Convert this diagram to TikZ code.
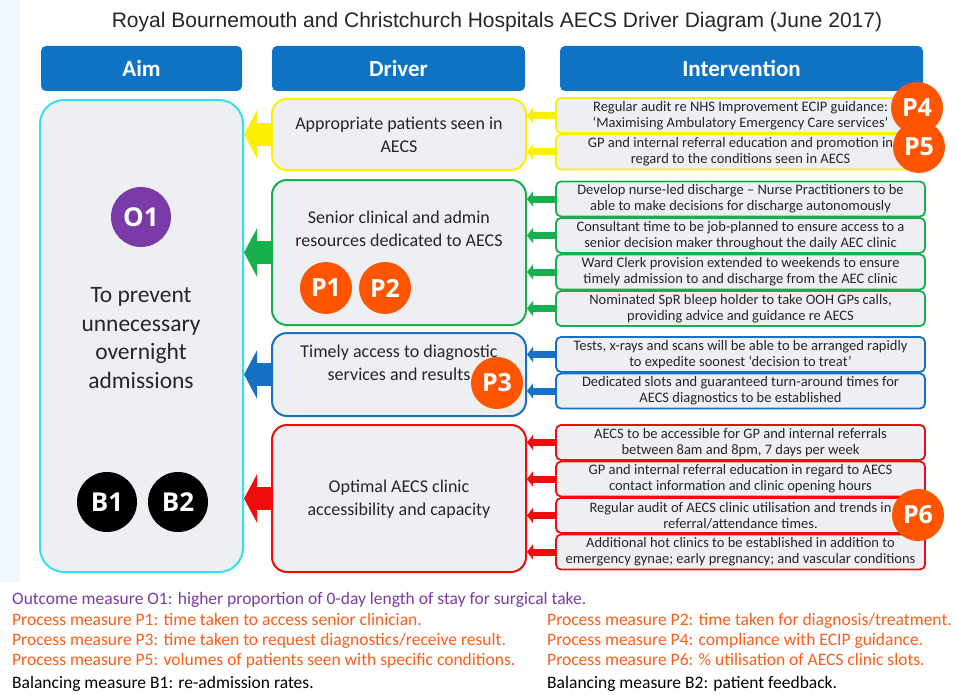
\documentclass[tikz,border=0pt]{standalone}
\usepackage{fontspec}
\setmainfont{Carlito}
\newfontfamily\titlefont{Liberation Sans}
\newfontfamily\badgefont{Open Sans}
\usetikzlibrary{arrows.meta,backgrounds}

\definecolor{hdrblue}{RGB}{14,115,197}
\definecolor{boxfill}{RGB}{238,239,243}
\definecolor{txtgray}{RGB}{38,38,38}
\definecolor{dyellow}{RGB}{250,240,0}
\definecolor{dgreen}{RGB}{24,176,78}
\definecolor{dblue}{RGB}{22,112,195}
\definecolor{dred}{RGB}{238,12,12}
\definecolor{aimcyan}{RGB}{50,225,240}
\definecolor{porange}{RGB}{255,85,0}
\definecolor{opurple}{RGB}{122,58,168}
\definecolor{morange}{RGB}{255,92,24}
\definecolor{pagetint}{RGB}{240,247,253}

\begin{document}
\begin{tikzpicture}[x=1pt,y=-1pt,
  hdr/.style={rectangle, rounded corners=5pt, fill=hdrblue, text=white,
    font=\fontsize{23}{27}\selectfont\bfseries, minimum height=45pt, inner sep=0pt},
  drvbox/.style={rectangle, rounded corners=15pt, draw=#1, fill=boxfill,
    line width=2pt, minimum width=254pt, inner sep=0pt},
  drvtext/.style={align=center, text=txtgray, font=\fontsize{18}{22.5}\selectfont},
  intbox/.style={rectangle, rounded corners=5pt, draw=#1, fill=boxfill,
    line width=1.8pt, minimum width=369pt, minimum height=35pt, inner sep=0pt,
    align=center, text=txtgray, font=\fontsize{14.5}{15.8}\selectfont},
  feed/.style={draw=#1, line width=7pt, -{Triangle[length=6pt,width=15pt]}},
  bigfeed/.style={draw=#1, line width=23pt, -{Triangle[length=13pt,width=48pt]}},
  pbadge/.style={circle, fill=porange, text=white, minimum size=52pt, inner sep=0pt,
    font=\badgefont\bfseries\fontsize{25}{25}\selectfont},
  obadge/.style={circle, fill=#1, text=white, minimum size=60pt, inner sep=0pt,
    font=\badgefont\bfseries\fontsize{26}{26}\selectfont},
  measure/.style={anchor=mid west, inner sep=0pt, font=\fontsize{17.5}{20}\selectfont}
]
\useasboundingbox (0,0) rectangle (957,695);
\fill[pagetint] (0,0) rectangle (20,582);

% title
\node[font=\titlefont\fontsize{21}{25}\selectfont, text=txtgray] (title) at (497,22)
  {Royal Bournemouth and Christchurch Hospitals AECS Driver Diagram (June 2017)};

% column headers
\node[hdr, minimum width=201pt] (hAim) at (141.5,68.5) {Aim};
\node[hdr, minimum width=253pt] (hDrv) at (398.5,68.5) {Driver};
\node[hdr, minimum width=363pt] (hInt) at (741.5,68.5) {Intervention};

% aim
\node[rectangle, rounded corners=24pt, draw=aimcyan, fill=boxfill, line width=2pt,
  minimum width=203pt, minimum height=472pt, inner sep=0pt] (aim) at (141.5,336) {};
\node[align=center, text=txtgray, font=\fontsize{23.5}{28.7}\selectfont] (aimtext) at (141,338)
  {To prevent\\unnecessary\\overnight\\admissions};

% drivers
\node[drvbox=dyellow, minimum height=71pt] (dY) at (399,134.5) {};
\node[drvtext] (dYt) at (399,135) {Appropriate patients seen in\\AECS};
\node[drvbox=dgreen, minimum height=145pt] (dG) at (399,252.5) {};
\node[drvtext] (dGt) at (399,229) {Senior clinical and admin\\resources dedicated to AECS};
\node[drvbox=dblue, minimum height=83pt] (dB) at (399,374.5) {};
\node[drvtext] (dBt) at (399,363) {Timely access to diagnostic\\services and results};
\node[drvbox=dred, minimum height=147pt] (dR) at (399,498.5) {};
\node[drvtext] (dRt) at (399,499) {Optimal AECS clinic\\accessibility and capacity};

% interventions
\node[intbox=dyellow] (iY1) at (740.5,115.5) {Regular audit re NHS Improvement ECIP guidance:\\‘Maximising Ambulatory Emergency Care services’};
\node[intbox=dyellow] (iY2) at (740.5,152) {GP and internal referral education and promotion in\\regard to the conditions seen in AECS};

\node[intbox=dgreen] (iG1) at (740.5,199) {Develop nurse-led discharge – Nurse Practitioners to be\\able to make decisions for discharge autonomously};
\node[intbox=dgreen] (iG2) at (740.5,235.5) {Consultant time to be job-planned to ensure access to a\\senior decision maker throughout the daily AEC clinic};
\node[intbox=dgreen] (iG3) at (740.5,272) {Ward Clerk provision extended to weekends to ensure\\timely admission to and discharge from the AEC clinic};
\node[intbox=dgreen] (iG4) at (740.5,308.5) {Nominated SpR bleep holder to take OOH GPs calls,\\providing advice and guidance re AECS};

\node[intbox=dblue] (iB1) at (740.5,354.5) {Tests, x-rays and scans will be able to be arranged rapidly\\to expedite soonest ‘decision to treat’};
\node[intbox=dblue] (iB2) at (740.5,391) {Dedicated slots and guaranteed turn-around times for\\AECS diagnostics to be established};

\node[intbox=dred] (iR1) at (740.5,442.5) {AECS to be accessible for GP and internal referrals\\between 8am and 8pm, 7 days per week};
\node[intbox=dred] (iR2) at (740.5,479) {GP and internal referral education in regard to AECS\\contact information and clinic opening hours};
\node[intbox=dred] (iR3) at (740.5,515.5) {Regular audit of AECS clinic utilisation and trends in\\referral/attendance times.};
\node[intbox=dred] (iR4) at (740.5,552) {Additional hot clinics to be established in addition to\\emergency gynae; early pregnancy; and vascular conditions};

% connectors, kept under the boxes
\begin{pgfonlayer}{background}
  \foreach \i in {iY1,iY2} \draw[feed=dyellow] (\i.west) -- (dY.east |- \i.west);
  \foreach \i in {iG1,iG2,iG3,iG4} \draw[feed=dgreen] (\i.west) -- (dG.east |- \i.west);
  \foreach \i in {iB1,iB2} \draw[feed=dblue] (\i.west) -- (dB.east |- \i.west);
  \foreach \i in {iR1,iR2,iR3,iR4} \draw[feed=dred] (\i.west) -- (dR.east |- \i.west);
  \draw[bigfeed=dyellow] (dY.west) -- (aim.east |- dY.west);
  \draw[bigfeed=dgreen] (dG.west) -- (aim.east |- dG.west);
  \draw[bigfeed=dblue] (dB.west) -- (aim.east |- dB.west);
  \draw[bigfeed=dred] (dR.west) -- (aim.east |- dR.west);
\end{pgfonlayer}

% measure badges
\node[obadge=opurple] (O1) at (141,217) {O1};
\node[obadge=black] (B1) at (107,502) {B1};
\node[obadge=black] (B2) at (178,502) {B2};
\node[pbadge] (P1) at (326,288) {P1};
\node[pbadge] (P2) at (385,288) {P2};
\node[pbadge] (P3) at (497,383) {P3};
\node[pbadge] (P4) at (917,108) {P4};
\node[pbadge] (P5) at (919,147) {P5};
\node[pbadge] (P6) at (918,515) {P6};

% measure key
\node[measure, text=opurple] (mO1) at (12,602) {Outcome measure O1: higher proportion of 0-day length of stay for surgical take.};
\node[measure, text=morange] (mP1) at (12,623) {Process measure P1: time taken to access senior clinician.};
\node[measure, text=morange] (mP2) at (547,623) {Process measure P2: time taken for diagnosis/treatment.};
\node[measure, text=morange] (mP3) at (12,643) {Process measure P3: time taken to request diagnostics/receive result.};
\node[measure, text=morange] (mP4) at (547,643) {Process measure P4: compliance with ECIP guidance.};
\node[measure, text=morange] (mP5) at (12,663) {Process measure P5: volumes of patients seen with specific conditions.};
\node[measure, text=morange] (mP6) at (547,663) {Process measure P6: \% utilisation of AECS clinic slots.};
\node[measure, text=black] (mB1) at (12,686) {Balancing measure B1: re-admission rates.};
\node[measure, text=black] (mB2) at (547,686) {Balancing measure B2: patient feedback.};
\end{tikzpicture}
\end{document}
